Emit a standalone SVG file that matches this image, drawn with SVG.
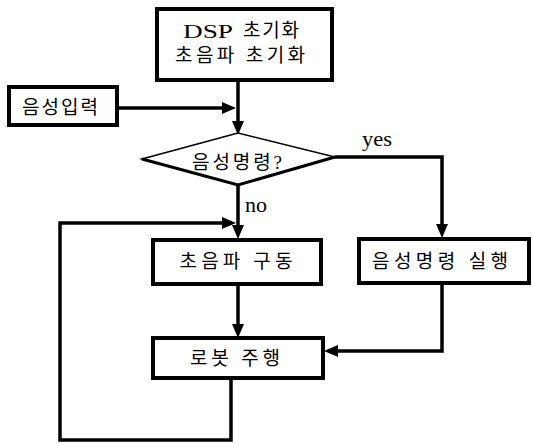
<svg xmlns="http://www.w3.org/2000/svg" width="533" height="444" viewBox="0 0 533 444">
<style>
  .box { fill: #fff; stroke: #000; stroke-width: 4; }
  .t { font-family: "Liberation Serif", "Noto Sans CJK KR", serif; font-size: 19px; fill: #000; text-anchor: middle; }
  .ts { font-family: "Liberation Serif", "Noto Sans CJK KR", serif; font-size: 19px; fill: #000; }
  .lbl { font-family: "Liberation Serif", "Noto Sans CJK KR", serif; font-size: 21px; fill: #000; }
  .conn { fill: none; stroke: #000; stroke-width: 3.5; stroke-linejoin: miter; }
</style>
<defs>
  <marker id="arr" viewBox="0 0 14 12" refX="6" refY="6" markerWidth="14" markerHeight="12" markerUnits="userSpaceOnUse" orient="auto">
    <path d="M0,0 L14,6 L0,12 z" fill="#000"/>
  </marker>
</defs>
<rect width="533" height="444" fill="#fff"/>

<g id="connectors">
  <path class="conn" d="M238,80 V127" marker-end="url(#arr)"/>
  <path class="conn" d="M117,108 H228" marker-end="url(#arr)"/>
  <path class="conn" d="M335,157 H442 V230" marker-end="url(#arr)"/>
  <path class="conn" d="M238,185 V231" marker-end="url(#arr)"/>
  <path class="conn" d="M231,378 V440 H60 V223 H228" marker-end="url(#arr)"/>
  <path class="conn" d="M238,284 V330" marker-end="url(#arr)"/>
  <path class="conn" d="M442,283 V351 H332" marker-end="url(#arr)"/>
  <text class="lbl" x="362" y="146" textLength="30" lengthAdjust="spacingAndGlyphs">yes</text>
  <text class="lbl" x="245" y="212" textLength="22" lengthAdjust="spacingAndGlyphs">no</text>
</g>

<g id="init">
  <rect class="box" x="157" y="9" width="175" height="71"/>
  <text class="ts" x="183" y="38" font-size="21" textLength="50" lengthAdjust="spacingAndGlyphs">DSP</text>
  <text class="ts" x="243" y="37" textLength="56">초기화</text>
  <text class="t" x="240" y="62" textLength="130">초음파 초기화</text>
</g>

<g id="voice-input">
  <rect class="box" x="9" y="87" width="108" height="38"/>
  <text class="t" x="60" y="114" textLength="76">음성입력</text>
</g>

<g id="decision">
  <path d="M238,133 L142,159 L238,185 L335,157 Z" fill="#fff" stroke="#000" stroke-width="1.6" stroke-linejoin="miter"/>
  <path d="M142,159 L238,185 L335,157" fill="none" stroke="#000" stroke-width="3"/>
  <text class="t" x="237" y="169" textLength="90">음성명령?</text>
</g>

<g id="ultrasonic">
  <rect class="box" x="153" y="240" width="168" height="44"/>
  <text class="t" x="236" y="268" textLength="113">초음파 구동</text>
</g>

<g id="execute">
  <rect class="box" x="359" y="239" width="170" height="44"/>
  <text class="t" x="440" y="268" textLength="136">음성명령 실행</text>
</g>

<g id="drive">
  <rect class="box" x="153" y="338" width="170" height="40"/>
  <text class="t" x="235" y="365" textLength="90">로봇 주행</text>
</g>
</svg>
